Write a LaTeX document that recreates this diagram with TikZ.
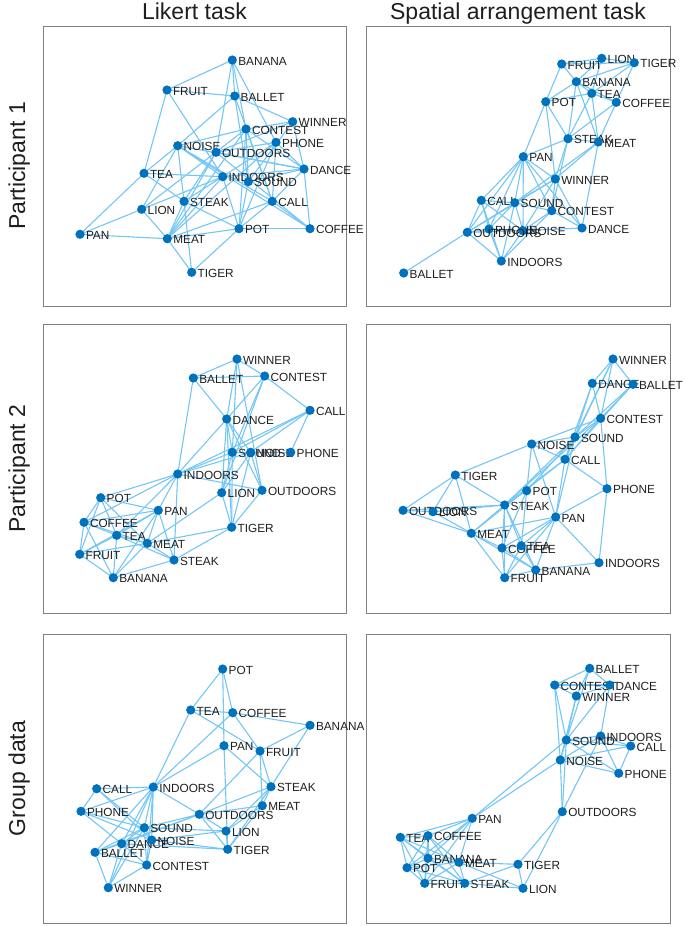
\documentclass[tikz,border=0pt]{standalone}
\usepackage{fontspec}
\setmainfont{Liberation Sans}

\definecolor{nodeblue}{RGB}{0,114,189}
\definecolor{linkblue}{RGB}{115,198,245}
\definecolor{labelgray}{RGB}{30,30,30}

% node positions (x/y in pixels from the top left)
\newcommand\ptsA{BANANA/232.3/60,FRUIT/167/90,BALLET/234.7/96,WINNER/292.7/121.7,CONTEST/246/129,
  PHONE/276/142.3,NOISE/177.7/145.7,OUTDOORS/216/152.3,DANCE/304/169,TEA/144/173.3,
  INDOORS/222.7/176.7,SOUND/248.3/181.7,STEAK/184/201.3,CALL/272.3/201.3,LION/141.7/209.3,
  POT/239/228.7,COFFEE/310/228.7,PAN/80/234.3,MEAT/167.3/238.7,TIGER/191.7/272.3}
\newcommand\ptsB{FRUIT/561.7/64,LION/601.7/58.3,TIGER/634.3/62.7,BANANA/576.3/81.7,TEA/591.7/93.3,
  COFFEE/616.3/102.3,POT/545.7/101.7,STEAK/568/138.7,MEAT/598.3/142,PAN/523.3/156.7,
  WINNER/555.3/179,CALL/481.3/200.3,SOUND/514.7/202.7,CONTEST/551.7/210.7,PHONE/489/229,
  NOISE/523/230.7,OUTDOORS/467.3/232.3,DANCE/582/228,INDOORS/501.3/261,BALLET/403.7/273}
\newcommand\ptsC{WINNER/237/359,BALLET/193.3/378,CONTEST/264.7/376,CALL/310/410.3,DANCE/226.7/419,
  SOUND/232.3/452.3,NOISE/250.7/452.3,PHONE/290.7/452.3,INDOORS/177.7/474,LION/221.7/492.7,
  OUTDOORS/262/490.3,POT/100.7/497.7,PAN/158.3/510.3,COFFEE/84/522.3,TEA/116.7/535.3,
  TIGER/231.7/527.3,MEAT/147.3/543.3,FRUIT/79.7/554.3,STEAK/174/560,BANANA/113.3/577.7}
\newcommand\ptsD{WINNER/613/359,DANCE/592.3/383.3,BALLET/633/384.3,CONTEST/600.7/418.3,SOUND/575/437,
  NOISE/531.7/444,CALL/565/459.3,TIGER/455.3/475,PHONE/607/488.7,POT/526.7/490.7,
  STEAK/504.7/505,OUTDOORS/403/510.3,LION/433/511.7,PAN/555.7/517,MEAT/471.3/533.3,
  COFFEE/502/548,TEA/521.3/545.7,INDOORS/599/562.7,BANANA/535.7/570,FRUIT/504.7/577.7}
\newcommand\ptsE{POT/222.7/669,TEA/190.7/710,COFFEE/232.7/712.7,BANANA/310/725.3,PAN/224/745.7,
  FRUIT/260/751,CALL/96.7/788.7,INDOORS/153.3/787,STEAK/271/786.7,MEAT/262.3/805.7,
  PHONE/81/811.3,OUTDOORS/199.3/814.3,SOUND/144.3/827.7,LION/226/831,DANCE/121.7/843.7,
  NOISE/151.7/840,TIGER/227.7/849.3,BALLET/95/852.3,CONTEST/146.7/865,WINNER/108.3/887.7}
\newcommand\ptsF{BALLET/589.7/668.3,CONTEST/554.7/685,DANCE/609.7/685,WINNER/576.3/696,INDOORS/600.7/736,
  SOUND/566.3/740,CALL/630.7/746,NOISE/560.3/760,PHONE/618.7/773.3,OUTDOORS/562.3/811.7,
  PAN/472.3/818.3,TEA/400.3/837.3,COFFEE/428/835.7,BANANA/428/858.3,MEAT/459/862.3,
  POT/407/867.7,TIGER/518/864.3,FRUIT/424.7/883.3,STEAK/464.7/883.3,LION/523/888.3}

% links
\newcommand\linksA{FRUIT/BANANA,FRUIT/BALLET,FRUIT/TEA,FRUIT/INDOORS,BANANA/BALLET,BANANA/PHONE,
  BANANA/OUTDOORS,BANANA/CONTEST,BALLET/NOISE,BALLET/WINNER,BALLET/SOUND,BALLET/CALL,
  WINNER/CONTEST,WINNER/OUTDOORS,WINNER/DANCE,WINNER/SOUND,CONTEST/NOISE,CONTEST/LION,
  CONTEST/POT,CONTEST/CALL,CONTEST/DANCE,CONTEST/SOUND,CONTEST/MEAT,PHONE/DANCE,PHONE/STEAK,
  PHONE/MEAT,PHONE/POT,PHONE/CALL,PHONE/OUTDOORS,NOISE/TEA,NOISE/LION,NOISE/STEAK,
  NOISE/INDOORS,NOISE/DANCE,NOISE/CALL,NOISE/COFFEE,OUTDOORS/MEAT,OUTDOORS/STEAK,
  OUTDOORS/DANCE,OUTDOORS/COFFEE,TEA/PAN,TEA/INDOORS,TEA/STEAK,INDOORS/LION,INDOORS/MEAT,
  INDOORS/DANCE,INDOORS/POT,SOUND/DANCE,SOUND/POT,STEAK/MEAT,STEAK/TIGER,STEAK/POT,
  CALL/DANCE,CALL/POT,CALL/MEAT,CALL/COFFEE,LION/PAN,LION/MEAT,POT/MEAT,POT/TIGER,
  POT/COFFEE,PAN/MEAT,MEAT/TIGER,DANCE/COFFEE}
\newcommand\linksB{FRUIT/LION,FRUIT/TIGER,FRUIT/BANANA,FRUIT/POT,LION/BANANA,LION/TIGER,LION/TEA,
  TIGER/BANANA,TIGER/COFFEE,TIGER/TEA,BANANA/TEA,BANANA/COFFEE,BANANA/POT,BANANA/STEAK,
  BANANA/MEAT,TEA/MEAT,TEA/COFFEE,TEA/POT,TEA/STEAK,COFFEE/MEAT,COFFEE/STEAK,POT/PAN,
  POT/STEAK,POT/WINNER,STEAK/PAN,STEAK/WINNER,STEAK/MEAT,STEAK/CONTEST,MEAT/WINNER,
  MEAT/DANCE,MEAT/SOUND,PAN/CALL,PAN/SOUND,PAN/NOISE,PAN/PHONE,PAN/OUTDOORS,PAN/WINNER,
  PAN/CONTEST,PAN/DANCE,WINNER/SOUND,WINNER/CONTEST,WINNER/DANCE,WINNER/NOISE,
  WINNER/OUTDOORS,CALL/SOUND,CALL/PHONE,CALL/OUTDOORS,CALL/NOISE,CALL/INDOORS,SOUND/NOISE,
  SOUND/PHONE,SOUND/OUTDOORS,SOUND/CONTEST,SOUND/INDOORS,CONTEST/NOISE,CONTEST/DANCE,
  CONTEST/INDOORS,PHONE/OUTDOORS,PHONE/NOISE,PHONE/INDOORS,NOISE/OUTDOORS,NOISE/INDOORS,
  NOISE/DANCE,OUTDOORS/INDOORS,OUTDOORS/BALLET}
\newcommand\linksC{WINNER/BALLET,WINNER/CONTEST,WINNER/DANCE,WINNER/SOUND,WINNER/OUTDOORS,
  BALLET/CONTEST,BALLET/DANCE,BALLET/INDOORS,CONTEST/DANCE,CONTEST/CALL,CONTEST/SOUND,
  CONTEST/LION,CALL/PHONE,CALL/NOISE,CALL/INDOORS,CALL/SOUND,DANCE/SOUND,DANCE/NOISE,
  DANCE/INDOORS,DANCE/LION,DANCE/OUTDOORS,DANCE/TIGER,SOUND/NOISE,SOUND/INDOORS,SOUND/LION,
  SOUND/TIGER,SOUND/PHONE,NOISE/PHONE,NOISE/LION,NOISE/OUTDOORS,NOISE/TIGER,NOISE/INDOORS,
  INDOORS/OUTDOORS,INDOORS/POT,INDOORS/PAN,INDOORS/COFFEE,INDOORS/STEAK,INDOORS/TEA,
  LION/TIGER,LION/MEAT,OUTDOORS/TIGER,POT/PAN,POT/COFFEE,POT/TEA,POT/FRUIT,POT/MEAT,
  PAN/COFFEE,PAN/TEA,PAN/MEAT,PAN/STEAK,PAN/BANANA,PAN/FRUIT,COFFEE/TEA,COFFEE/FRUIT,
  COFFEE/BANANA,COFFEE/MEAT,TEA/MEAT,TEA/FRUIT,TEA/BANANA,TEA/STEAK,TIGER/MEAT,TIGER/STEAK,
  MEAT/FRUIT,MEAT/STEAK,MEAT/BANANA,FRUIT/BANANA,STEAK/BANANA}
\newcommand\linksD{WINNER/DANCE,WINNER/BALLET,WINNER/CONTEST,WINNER/SOUND,WINNER/CALL,
  DANCE/BALLET,DANCE/CONTEST,DANCE/SOUND,DANCE/CALL,BALLET/CONTEST,BALLET/SOUND,BALLET/CALL,
  CONTEST/SOUND,CONTEST/NOISE,CONTEST/PHONE,CONTEST/CALL,CONTEST/STEAK,SOUND/NOISE,
  SOUND/CALL,SOUND/STEAK,SOUND/PAN,SOUND/POT,NOISE/TIGER,NOISE/POT,NOISE/CALL,NOISE/PAN,
  CALL/PHONE,CALL/PAN,CALL/STEAK,CALL/MEAT,TIGER/OUTDOORS,TIGER/LION,TIGER/STEAK,TIGER/MEAT,
  PHONE/PAN,PHONE/INDOORS,POT/STEAK,POT/TEA,POT/COFFEE,STEAK/OUTDOORS,STEAK/LION,STEAK/MEAT,
  STEAK/COFFEE,STEAK/TEA,STEAK/BANANA,STEAK/FRUIT,OUTDOORS/LION,OUTDOORS/MEAT,LION/MEAT,
  PAN/MEAT,PAN/COFFEE,PAN/TEA,PAN/BANANA,PAN/FRUIT,PAN/INDOORS,MEAT/COFFEE,MEAT/BANANA,
  MEAT/FRUIT,COFFEE/TEA,COFFEE/FRUIT,COFFEE/BANANA,TEA/BANANA,TEA/FRUIT,INDOORS/BANANA,
  BANANA/FRUIT}
\newcommand\linksE{POT/TEA,POT/COFFEE,POT/PAN,TEA/COFFEE,TEA/INDOORS,TEA/FRUIT,COFFEE/BANANA,
  COFFEE/FRUIT,COFFEE/INDOORS,BANANA/FRUIT,BANANA/STEAK,PAN/INDOORS,PAN/STEAK,PAN/TIGER,
  FRUIT/STEAK,FRUIT/MEAT,FRUIT/OUTDOORS,CALL/INDOORS,CALL/PHONE,CALL/SOUND,CALL/NOISE,
  INDOORS/PHONE,INDOORS/SOUND,INDOORS/DANCE,INDOORS/BALLET,INDOORS/CONTEST,INDOORS/WINNER,
  INDOORS/NOISE,INDOORS/OUTDOORS,STEAK/MEAT,STEAK/OUTDOORS,STEAK/LION,STEAK/TIGER,
  MEAT/OUTDOORS,MEAT/LION,MEAT/TIGER,PHONE/SOUND,PHONE/DANCE,PHONE/NOISE,OUTDOORS/LION,
  OUTDOORS/TIGER,OUTDOORS/SOUND,OUTDOORS/DANCE,OUTDOORS/BALLET,SOUND/LION,SOUND/DANCE,
  SOUND/NOISE,SOUND/BALLET,SOUND/CONTEST,SOUND/WINNER,NOISE/TIGER,NOISE/LION,DANCE/BALLET,
  DANCE/CONTEST,DANCE/WINNER,DANCE/TIGER,BALLET/CONTEST,BALLET/WINNER,CONTEST/WINNER,
  CONTEST/NOISE,LION/TIGER}
\newcommand\linksF{BALLET/CONTEST,BALLET/DANCE,BALLET/WINNER,BALLET/SOUND,CONTEST/DANCE,
  CONTEST/WINNER,CONTEST/SOUND,CONTEST/NOISE,DANCE/WINNER,DANCE/SOUND,DANCE/INDOORS,
  WINNER/SOUND,WINNER/NOISE,INDOORS/SOUND,INDOORS/CALL,INDOORS/PHONE,INDOORS/NOISE,
  INDOORS/OUTDOORS,SOUND/CALL,SOUND/NOISE,SOUND/PHONE,SOUND/PAN,SOUND/OUTDOORS,CALL/NOISE,
  CALL/PHONE,NOISE/PHONE,NOISE/OUTDOORS,NOISE/PAN,OUTDOORS/TIGER,OUTDOORS/LION,PAN/TEA,
  PAN/COFFEE,PAN/BANANA,PAN/POT,PAN/MEAT,PAN/FRUIT,TEA/COFFEE,TEA/BANANA,TEA/POT,TEA/FRUIT,
  TEA/MEAT,TEA/STEAK,COFFEE/BANANA,COFFEE/POT,COFFEE/MEAT,COFFEE/FRUIT,COFFEE/STEAK,
  BANANA/POT,BANANA/FRUIT,BANANA/MEAT,BANANA/STEAK,MEAT/POT,MEAT/FRUIT,MEAT/STEAK,
  MEAT/TIGER,POT/FRUIT,POT/STEAK,FRUIT/STEAK,STEAK/TIGER,STEAK/LION,TIGER/LION,MEAT/LION}

\begin{document}
\begin{tikzpicture}[x=1pt,y=-1pt,
  edge/.style={linkblue,line width=1.1pt},
  dot/.style={fill=nodeblue},
  lbl/.style={anchor=west,xshift=5.8pt,yshift=-1.2pt,inner sep=0pt,text=labelgray,
    font=\fontsize{11.8}{12}\selectfont},
  frame/.style={draw=black!50,line width=0.8pt},
  ttl/.style={anchor=base,text=labelgray,font=\fontsize{23}{26}\selectfont}]

\useasboundingbox (0,0) rectangle (685,926);

\node[ttl] (likert) at (194.5,19.3) {Likert task};
\node[ttl] (spatial) at (518,19.3) {Spatial arrangement task};
\node[ttl,rotate=90] (part1) at (25,166) {Participant 1};
\node[ttl,rotate=90] (part2) at (25,468.5) {Participant 2};
\node[ttl,rotate=90] (group) at (25,778.5) {Group data};

\draw[frame] (43,26) rectangle (346,306);
\draw[frame] (366,26) rectangle (670,306);
\draw[frame] (43,324) rectangle (346,613);
\draw[frame] (366,324) rectangle (670,613);
\draw[frame] (43,634) rectangle (346,923);
\draw[frame] (366,634) rectangle (670,923);

\foreach \n/\x/\y in \ptsA \coordinate (A-\n) at (\x,\y);
\foreach \n/\x/\y in \ptsB \coordinate (B-\n) at (\x,\y);
\foreach \n/\x/\y in \ptsC \coordinate (C-\n) at (\x,\y);
\foreach \n/\x/\y in \ptsD \coordinate (D-\n) at (\x,\y);
\foreach \n/\x/\y in \ptsE \coordinate (E-\n) at (\x,\y);
\foreach \n/\x/\y in \ptsF \coordinate (F-\n) at (\x,\y);

\foreach \p/\q in \linksA \draw[edge] (A-\p) -- (A-\q);
\foreach \p/\q in \linksB \draw[edge] (B-\p) -- (B-\q);
\foreach \p/\q in \linksC \draw[edge] (C-\p) -- (C-\q);
\foreach \p/\q in \linksD \draw[edge] (D-\p) -- (D-\q);
\foreach \p/\q in \linksE \draw[edge] (E-\p) -- (E-\q);
\foreach \p/\q in \linksF \draw[edge] (F-\p) -- (F-\q);

\foreach \n/\x/\y in \ptsA \fill[dot] (A-\n) circle (4.6pt) node[lbl] {\n};
\foreach \n/\x/\y in \ptsB \fill[dot] (B-\n) circle (4.6pt) node[lbl] {\n};
\foreach \n/\x/\y in \ptsC \fill[dot] (C-\n) circle (4.6pt) node[lbl] {\n};
\foreach \n/\x/\y in \ptsD \fill[dot] (D-\n) circle (4.6pt) node[lbl] {\n};
\foreach \n/\x/\y in \ptsE \fill[dot] (E-\n) circle (4.6pt) node[lbl] {\n};
\foreach \n/\x/\y in \ptsF \fill[dot] (F-\n) circle (4.6pt) node[lbl] {\n};

\end{tikzpicture}
\end{document}
